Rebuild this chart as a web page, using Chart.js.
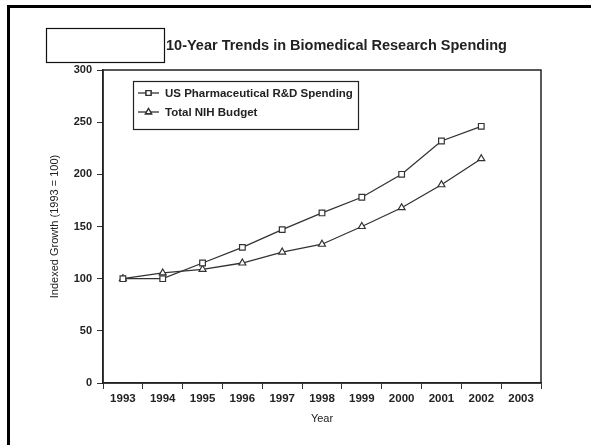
<!DOCTYPE html>
<html><head><meta charset="utf-8">
<script src="https://cdn.jsdelivr.net/npm/chart.js@4/dist/chart.umd.min.js"></script>
<style>html,body{margin:0;padding:0;background:#fff;overflow:hidden}#wrap{width:591px;height:445px}</style>
</head><body><div id="wrap"><canvas id="c" width="591" height="445"></canvas></div>
<script>
const chartTitle = "10-Year Trends in Biomedical Research Spending";
const years = ["1993","1994","1995","1996","1997","1998","1999","2000","2001","2002","2003"];
const pharmaLabel = "US Pharmaceutical R&D Spending";
const pharma = [100, 100, 115, 130, 147, 163, 178, 200, 232, 246, null];
const nihLabel = "Total NIH Budget";
const nih = [100, 105.5, 109, 115, 125.5, 133, 150, 168, 190, 215, null];
const yTicks = [0, 50, 100, 150, 200, 250, 300];
const yTitle = "Indexed Growth (1993 = 100)";
const xTitle = "Year";

const FONT = "'Liberation Sans', Arial, Helvetica, sans-serif";
const INK = "#222";

const decor = {
  id: 'decor',
  beforeDraw(chart) {
    const ctx = chart.ctx;
    ctx.save();
    ctx.fillStyle = '#fff';
    ctx.fillRect(0, 0, chart.width, chart.height);
    // outer frame
    ctx.strokeStyle = '#000';
    ctx.lineWidth = 3;
    ctx.strokeRect(8.5, 6.5, chart.width + 20, chart.height + 20);
    // redaction box
    ctx.lineWidth = 1.2;
    ctx.strokeStyle = '#111';
    ctx.strokeRect(46.5, 28.5, 118, 34);
    // title
    ctx.fillStyle = INK;
    ctx.font = "bold 14.5px " + FONT;
    ctx.textBaseline = 'middle';
    ctx.textAlign = 'left';
    ctx.fillText(chartTitle, 166, 46);
    ctx.restore();
  },
  afterDraw(chart) {
    const ctx = chart.ctx;
    const a = chart.chartArea;
    ctx.save();
    ctx.strokeStyle = INK;
    ctx.lineWidth = 1.5;
    ctx.strokeRect(a.left, a.top, a.right - a.left, a.bottom - a.top);
    // legend
    const lx = 133.5, ly = 81.5, lw = 225, lh = 48;
    ctx.lineWidth = 1.2;
    ctx.strokeStyle = INK;
    ctx.strokeRect(lx, ly, lw, lh);
    const rows = [{y: 93, ds: chart.data.datasets[0]}, {y: 112, ds: chart.data.datasets[1]}];
    ctx.font = "bold 11.5px " + FONT;
    ctx.textBaseline = 'middle';
    ctx.textAlign = 'left';
    rows.forEach(r => {
      ctx.strokeStyle = '#333';
      ctx.lineWidth = 1.3;
      ctx.beginPath();
      ctx.moveTo(138, r.y); ctx.lineTo(159, r.y); ctx.stroke();
      Chart.helpers.drawPoint(ctx, {pointStyle: r.ds.pointStyle, radius: 3.5, borderWidth: 1.2}, 148.5, r.y);
      ctx.fillStyle = '#fff';
      ctx.fill();
      ctx.stroke();
      ctx.fillStyle = INK;
      ctx.fillText(r.ds.label, 165, r.y + 0.5);
    });
    ctx.restore();
  }
};

new Chart(document.getElementById('c'), {
  type: 'line',
  data: {
    labels: years,
    datasets: [
      {label: pharmaLabel, data: pharma, borderColor: '#333', borderWidth: 1.3, pointStyle: 'rect',
       pointRadius: 4, pointBorderWidth: 1.2, pointBackgroundColor: '#fff', pointBorderColor: '#333', tension: 0},
      {label: nihLabel, data: nih, borderColor: '#333', borderWidth: 1.3, pointStyle: 'triangle',
       pointRadius: 4, pointBorderWidth: 1.2, pointBackgroundColor: '#fff', pointBorderColor: '#333', tension: 0}
    ]
  },
  options: {
    responsive: false,
    animation: false,
    devicePixelRatio: 1,
    layout: {padding: {left: 44, right: 50, top: 70, bottom: 15}},
    plugins: {legend: {display: false}, title: {display: false}, tooltip: {enabled: false}},
    scales: {
      x: {
        type: 'category',
        offset: true,
        grid: {display: true, drawOnChartArea: false, offset: true, tickLength: 6, color: '#333', tickWidth: 1},
        border: {display: true, color: INK, width: 1.5},
        ticks: {color: INK, font: {family: FONT, size: 11.5, weight: 'bold'}, padding: 3, maxRotation: 0, autoSkip: false},
        title: {display: true, text: xTitle, color: INK, font: {family: FONT, size: 11}, padding: {top: 4, bottom: 4}},
        afterFit(s) { s.height = 47; }
      },
      y: {
        min: 0, max: 300,
        afterBuildTicks(s) { s.ticks = yTicks.map(v => ({value: v})); },
        grid: {display: true, drawOnChartArea: false, tickLength: 6, color: '#333', tickWidth: 1},
        border: {display: true, color: INK, width: 1.5},
        ticks: {color: INK, font: {family: FONT, size: 11, weight: 'bold'}, padding: 5},
        title: {display: true, text: yTitle, color: INK, font: {family: FONT, size: 11}, padding: {top: 4, bottom: 4}},
        afterFit(s) { s.width = 59; }
      }
    }
  },
  plugins: [decor]
});
</script>
</body></html>
